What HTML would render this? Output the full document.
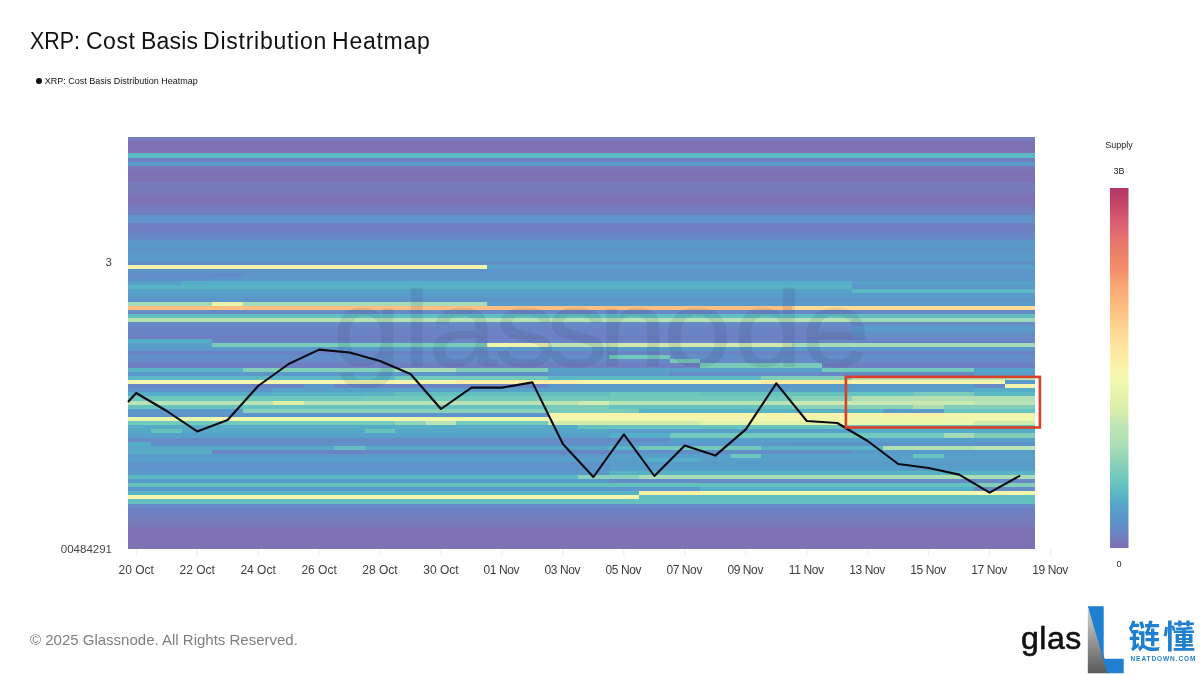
<!DOCTYPE html>
<html lang="en">
<head>
<meta charset="utf-8">
<title>XRP: Cost Basis Distribution Heatmap</title>
<style>
html,body{margin:0;padding:0;background:#fff;}
body{width:1200px;height:675px;position:relative;overflow:hidden;font-family:"Liberation Sans","Noto Sans CJK SC",sans-serif;color:#111;}
.title{position:absolute;left:29.6px;top:26px;font-size:23px;line-height:30px;white-space:nowrap;color:#111;letter-spacing:0;}
.tw{position:absolute;top:0;display:inline-block;transform-origin:0 0;}
.legend{position:absolute;left:35.7px;top:75px;font-size:9px;line-height:12px;white-space:nowrap;color:#111;}
.legend .dot{display:inline-block;width:6px;height:6px;border-radius:50%;background:#111;vertical-align:middle;margin-right:3px;position:relative;top:-1px;}
.foot{position:absolute;left:30px;top:630px;font-size:15px;line-height:20px;color:#7f7f7f;white-space:nowrap;}
svg{position:absolute;left:0;top:0;}
.xl{font-size:12px;fill:#3d3d3d;font-family:"Liberation Sans",sans-serif;}
.yl{font-size:11.5px;fill:#444;font-family:"Liberation Sans",sans-serif;}
.cb{font-size:9px;fill:#222;font-family:"Liberation Sans",sans-serif;}
.wm{font-size:107px;fill:#1a1a3a;stroke:#1a1a3a;stroke-width:1;stroke-linejoin:round;font-family:"Liberation Sans",sans-serif;}
.glas{position:absolute;left:1021px;top:618px;font-size:32px;line-height:40px;color:#111;letter-spacing:0.5px;-webkit-text-stroke:0.6px #111;}
.cn{position:absolute;left:1128.3px;top:613.6px;font-size:32px;line-height:46px;color:#1f7fd0;font-weight:bold;white-space:nowrap;letter-spacing:2.6px;font-family:"Liberation Sans","Noto Sans CJK SC",sans-serif;}
.nd{position:absolute;left:1130.5px;top:654px;font-size:6.5px;line-height:9px;color:#1f7fd0;font-weight:bold;white-space:nowrap;letter-spacing:0.93px;}
</style>
</head>
<body>
<div class="title"><span class="tw" style="left:0px;letter-spacing:0;transform:scaleX(0.93)">XRP:</span> <span class="tw" style="left:56.3px;letter-spacing:0.6px">Cost</span> <span class="tw" style="left:111.4px;letter-spacing:0.2px">Basis</span> <span class="tw" style="left:173.5px;letter-spacing:0.74px">Distribution</span> <span class="tw" style="left:302.5px;letter-spacing:0.73px">Heatmap</span></div>
<div class="legend"><span class="dot"></span>XRP: Cost Basis Distribution Heatmap</div>
<svg width="1200" height="675" viewBox="0 0 1200 675">
<defs>
<linearGradient id="cbg" x1="0" y1="0" x2="0" y2="1">
<stop offset="0.00%" stop-color="#b13468"/>
<stop offset="5.10%" stop-color="#c84868"/>
<stop offset="8.30%" stop-color="#d65a70"/>
<stop offset="11.10%" stop-color="#dd6572"/>
<stop offset="14.50%" stop-color="#e6746c"/>
<stop offset="17.70%" stop-color="#ec8068"/>
<stop offset="22.20%" stop-color="#f68a69"/>
<stop offset="26.25%" stop-color="#f8a470"/>
<stop offset="29.40%" stop-color="#f9b078"/>
<stop offset="33.30%" stop-color="#fdbe81"/>
<stop offset="35.60%" stop-color="#fcc888"/>
<stop offset="40.00%" stop-color="#fdd892"/>
<stop offset="44.40%" stop-color="#fee6a2"/>
<stop offset="46.25%" stop-color="#fdeaa2"/>
<stop offset="49.40%" stop-color="#fbf2a8"/>
<stop offset="52.50%" stop-color="#f5f6ad"/>
<stop offset="55.60%" stop-color="#ebf7ad"/>
<stop offset="60.00%" stop-color="#e0f0a8"/>
<stop offset="63.10%" stop-color="#d2ecaf"/>
<stop offset="66.70%" stop-color="#bce4b6"/>
<stop offset="69.40%" stop-color="#b4e1b4"/>
<stop offset="72.50%" stop-color="#a4dbb7"/>
<stop offset="75.60%" stop-color="#90d4b8"/>
<stop offset="77.80%" stop-color="#80ceb8"/>
<stop offset="81.10%" stop-color="#6cc7bc"/>
<stop offset="83.10%" stop-color="#62c0c0"/>
<stop offset="86.25%" stop-color="#55b0c6"/>
<stop offset="88.90%" stop-color="#57a0ca"/>
<stop offset="92.50%" stop-color="#5e94ca"/>
<stop offset="95.60%" stop-color="#6a85c6"/>
<stop offset="100.00%" stop-color="#7e72b5"/>
</linearGradient>
<linearGradient id="lg" x1="0" y1="0" x2="0" y2="1">
<stop offset="0%" stop-color="#d0d0d0"/><stop offset="100%" stop-color="#5a5a5a"/>
</linearGradient>
</defs>
<g shape-rendering="crispEdges">
<rect x="128" y="137" width="907" height="4" fill="#747cbe"/>
<rect x="128" y="141" width="907" height="4" fill="#7e72b5"/>
<rect x="128" y="145" width="907" height="4" fill="#7e72b5"/>
<rect x="128" y="149" width="907" height="4" fill="#7e72b5"/>
<rect x="128" y="153" width="907" height="5" fill="#5cb9c3"/>
<rect x="128" y="158" width="907" height="4" fill="#6f80c2"/>
<rect x="128" y="162" width="907" height="4" fill="#5b99ca"/>
<rect x="128" y="166" width="907" height="4" fill="#7977b9"/>
<rect x="128" y="170" width="907" height="4" fill="#7e72b5"/>
<rect x="128" y="174" width="907" height="4" fill="#7e72b5"/>
<rect x="128" y="178" width="907" height="4" fill="#7e72b5"/>
<rect x="128" y="182" width="907" height="4" fill="#7679bb"/>
<rect x="128" y="186" width="907" height="5" fill="#7679bb"/>
<rect x="128" y="191" width="907" height="4" fill="#7977b9"/>
<rect x="128" y="195" width="907" height="4" fill="#7e72b5"/>
<rect x="128" y="199" width="907" height="4" fill="#7e72b5"/>
<rect x="128" y="203" width="907" height="4" fill="#7977b9"/>
<rect x="128" y="207" width="907" height="4" fill="#747cbe"/>
<rect x="128" y="211" width="907" height="4" fill="#6f80c2"/>
<rect x="128" y="215" width="907" height="4" fill="#5d95ca"/>
<rect x="128" y="219" width="907" height="4" fill="#5f93ca"/>
<rect x="128" y="223" width="907" height="5" fill="#6f80c2"/>
<rect x="128" y="228" width="907" height="4" fill="#6f80c2"/>
<rect x="128" y="232" width="907" height="4" fill="#6a85c6"/>
<rect x="128" y="236" width="907" height="4" fill="#668bc7"/>
<rect x="128" y="240" width="907" height="4" fill="#5c97ca"/>
<rect x="128" y="244" width="907" height="4" fill="#5a9aca"/>
<rect x="128" y="248" width="907" height="4" fill="#5f93ca"/>
<rect x="128" y="252" width="907" height="4" fill="#5b99ca"/>
<rect x="128" y="256" width="907" height="5" fill="#599cca"/>
<rect x="128" y="261" width="907" height="4" fill="#6190c9"/>
<rect x="128" y="265" width="359" height="4" fill="#f4f6ad"/>
<rect x="487" y="265" width="548" height="4" fill="#57a0ca"/>
<rect x="128" y="269" width="907" height="4" fill="#5d95ca"/>
<rect x="128" y="273" width="115" height="4" fill="#638dc8"/>
<rect x="243" y="273" width="792" height="4" fill="#5d95ca"/>
<rect x="128" y="277" width="84" height="4" fill="#6190c9"/>
<rect x="212" y="277" width="823" height="4" fill="#5c97ca"/>
<rect x="128" y="281" width="54" height="4" fill="#57a0ca"/>
<rect x="182" y="281" width="670" height="4" fill="#55adc7"/>
<rect x="852" y="281" width="183" height="4" fill="#57a0ca"/>
<rect x="128" y="285" width="724" height="4" fill="#58b4c5"/>
<rect x="852" y="285" width="183" height="4" fill="#5b99ca"/>
<rect x="128" y="289" width="724" height="4" fill="#57a0ca"/>
<rect x="852" y="289" width="183" height="4" fill="#5cb9c3"/>
<rect x="128" y="293" width="907" height="5" fill="#599cca"/>
<rect x="128" y="298" width="907" height="4" fill="#5d95ca"/>
<rect x="128" y="302" width="84" height="4" fill="#a5dcb7"/>
<rect x="212" y="302" width="31" height="4" fill="#e6f4ab"/>
<rect x="243" y="302" width="244" height="4" fill="#a5dcb7"/>
<rect x="487" y="302" width="548" height="4" fill="#599cca"/>
<rect x="128" y="306" width="664" height="4" fill="#fdbe81"/>
<rect x="792" y="306" width="243" height="4" fill="#fddc96"/>
<rect x="128" y="310" width="907" height="4" fill="#668bc7"/>
<rect x="128" y="314" width="907" height="4" fill="#61bfc0"/>
<rect x="128" y="318" width="724" height="4" fill="#b6e2b4"/>
<rect x="852" y="318" width="183" height="4" fill="#9fd9b7"/>
<rect x="128" y="322" width="907" height="4" fill="#668bc7"/>
<rect x="128" y="326" width="724" height="5" fill="#6a85c6"/>
<rect x="852" y="326" width="183" height="5" fill="#599cca"/>
<rect x="128" y="331" width="724" height="4" fill="#6a85c6"/>
<rect x="852" y="331" width="183" height="4" fill="#6190c9"/>
<rect x="128" y="335" width="724" height="4" fill="#6f80c2"/>
<rect x="852" y="335" width="183" height="4" fill="#668bc7"/>
<rect x="128" y="339" width="84" height="4" fill="#55adc7"/>
<rect x="212" y="339" width="823" height="4" fill="#6a85c6"/>
<rect x="128" y="343" width="84" height="4" fill="#57a0ca"/>
<rect x="212" y="343" width="275" height="4" fill="#79ccb9"/>
<rect x="487" y="343" width="61" height="4" fill="#f0f6ad"/>
<rect x="548" y="343" width="61" height="4" fill="#bce4b6"/>
<rect x="609" y="343" width="183" height="4" fill="#d1ebaf"/>
<rect x="792" y="343" width="243" height="4" fill="#a5dcb7"/>
<rect x="128" y="347" width="907" height="4" fill="#5b99ca"/>
<rect x="128" y="351" width="907" height="4" fill="#6a85c6"/>
<rect x="128" y="355" width="481" height="4" fill="#6190c9"/>
<rect x="609" y="355" width="61" height="4" fill="#73c9bb"/>
<rect x="670" y="355" width="365" height="4" fill="#6190c9"/>
<rect x="128" y="359" width="542" height="4" fill="#668bc7"/>
<rect x="670" y="359" width="30" height="4" fill="#73c9bb"/>
<rect x="700" y="359" width="335" height="4" fill="#668bc7"/>
<rect x="128" y="363" width="572" height="5" fill="#6f80c2"/>
<rect x="700" y="363" width="122" height="5" fill="#79ccb9"/>
<rect x="822" y="363" width="213" height="5" fill="#6f80c2"/>
<rect x="128" y="368" width="115" height="4" fill="#58b4c5"/>
<rect x="243" y="368" width="152" height="4" fill="#80ceb8"/>
<rect x="395" y="368" width="61" height="4" fill="#abdeb6"/>
<rect x="456" y="368" width="92" height="4" fill="#80ceb8"/>
<rect x="548" y="368" width="274" height="4" fill="#57a0ca"/>
<rect x="822" y="368" width="152" height="4" fill="#73c9bb"/>
<rect x="974" y="368" width="61" height="4" fill="#57a0ca"/>
<rect x="128" y="372" width="328" height="4" fill="#5b99ca"/>
<rect x="456" y="372" width="92" height="4" fill="#6190c9"/>
<rect x="548" y="372" width="122" height="4" fill="#5b99ca"/>
<rect x="670" y="372" width="304" height="4" fill="#668bc7"/>
<rect x="974" y="372" width="61" height="4" fill="#599cca"/>
<rect x="128" y="376" width="267" height="4" fill="#5cb9c3"/>
<rect x="395" y="376" width="153" height="4" fill="#73c9bb"/>
<rect x="548" y="376" width="213" height="4" fill="#5cb9c3"/>
<rect x="761" y="376" width="91" height="4" fill="#80ceb8"/>
<rect x="852" y="376" width="183" height="4" fill="#bce4b6"/>
<rect x="128" y="380" width="328" height="4" fill="#f4f6ad"/>
<rect x="456" y="380" width="122" height="4" fill="#fceea5"/>
<rect x="578" y="380" width="183" height="4" fill="#f6f5ac"/>
<rect x="761" y="380" width="91" height="4" fill="#fdeca3"/>
<rect x="852" y="380" width="153" height="4" fill="#f3f6ad"/>
<rect x="1005" y="380" width="30" height="4" fill="#5b99ca"/>
<rect x="128" y="384" width="176" height="4" fill="#6a85c6"/>
<rect x="304" y="384" width="30" height="4" fill="#5b99ca"/>
<rect x="334" y="384" width="214" height="4" fill="#6a85c6"/>
<rect x="548" y="384" width="304" height="4" fill="#5b99ca"/>
<rect x="852" y="384" width="122" height="4" fill="#599cca"/>
<rect x="974" y="384" width="31" height="4" fill="#668bc7"/>
<rect x="1005" y="384" width="30" height="4" fill="#f4f6ad"/>
<rect x="128" y="388" width="145" height="4" fill="#5d95ca"/>
<rect x="273" y="388" width="701" height="4" fill="#57a0ca"/>
<rect x="974" y="388" width="61" height="4" fill="#55adc7"/>
<rect x="128" y="392" width="145" height="4" fill="#55adc7"/>
<rect x="273" y="392" width="122" height="4" fill="#58b4c5"/>
<rect x="395" y="392" width="214" height="4" fill="#61bfc0"/>
<rect x="609" y="392" width="91" height="4" fill="#6cc7bc"/>
<rect x="700" y="392" width="213" height="4" fill="#66c3be"/>
<rect x="913" y="392" width="61" height="4" fill="#79ccb9"/>
<rect x="974" y="392" width="61" height="4" fill="#5cb9c3"/>
<rect x="128" y="396" width="237" height="5" fill="#6cc7bc"/>
<rect x="365" y="396" width="427" height="5" fill="#73c9bb"/>
<rect x="792" y="396" width="60" height="5" fill="#88d1b8"/>
<rect x="852" y="396" width="183" height="5" fill="#b1e0b5"/>
<rect x="128" y="401" width="145" height="4" fill="#b9e3b5"/>
<rect x="273" y="401" width="31" height="4" fill="#e0f0a8"/>
<rect x="304" y="401" width="274" height="4" fill="#b9e3b5"/>
<rect x="578" y="401" width="31" height="4" fill="#d1ebaf"/>
<rect x="609" y="401" width="183" height="4" fill="#b6e2b4"/>
<rect x="792" y="401" width="182" height="4" fill="#cae9b2"/>
<rect x="974" y="401" width="61" height="4" fill="#b9e3b5"/>
<rect x="128" y="405" width="420" height="4" fill="#66c3be"/>
<rect x="548" y="405" width="61" height="4" fill="#79ccb9"/>
<rect x="609" y="405" width="183" height="4" fill="#66c3be"/>
<rect x="792" y="405" width="121" height="4" fill="#88d1b8"/>
<rect x="913" y="405" width="31" height="4" fill="#abdeb6"/>
<rect x="944" y="405" width="91" height="4" fill="#80ceb8"/>
<rect x="128" y="409" width="115" height="4" fill="#5b99ca"/>
<rect x="243" y="409" width="305" height="4" fill="#88d1b8"/>
<rect x="548" y="409" width="91" height="4" fill="#79ccb9"/>
<rect x="639" y="409" width="244" height="4" fill="#58b4c5"/>
<rect x="883" y="409" width="61" height="4" fill="#599cca"/>
<rect x="944" y="409" width="91" height="4" fill="#66c3be"/>
<rect x="128" y="413" width="420" height="4" fill="#5d95ca"/>
<rect x="548" y="413" width="335" height="4" fill="#f8f4ab"/>
<rect x="883" y="413" width="61" height="4" fill="#fbf0a7"/>
<rect x="944" y="413" width="91" height="4" fill="#f2f6ad"/>
<rect x="128" y="417" width="84" height="4" fill="#e8f5ac"/>
<rect x="212" y="417" width="31" height="4" fill="#f3f6ad"/>
<rect x="243" y="417" width="152" height="4" fill="#edf7ad"/>
<rect x="395" y="417" width="153" height="4" fill="#eff7ad"/>
<rect x="548" y="417" width="304" height="4" fill="#f1f6ad"/>
<rect x="852" y="417" width="183" height="4" fill="#eff7ad"/>
<rect x="128" y="421" width="267" height="4" fill="#73c9bb"/>
<rect x="395" y="421" width="31" height="4" fill="#90d4b8"/>
<rect x="426" y="421" width="30" height="4" fill="#bce4b6"/>
<rect x="456" y="421" width="92" height="4" fill="#73c9bb"/>
<rect x="548" y="421" width="152" height="4" fill="#d1ebaf"/>
<rect x="700" y="421" width="122" height="4" fill="#e3f2a9"/>
<rect x="822" y="421" width="152" height="4" fill="#ebf7ad"/>
<rect x="974" y="421" width="61" height="4" fill="#d1ebaf"/>
<rect x="128" y="425" width="450" height="4" fill="#55adc7"/>
<rect x="578" y="425" width="457" height="4" fill="#66c3be"/>
<rect x="128" y="429" width="23" height="4" fill="#56a7c8"/>
<rect x="151" y="429" width="31" height="4" fill="#66c3be"/>
<rect x="182" y="429" width="183" height="4" fill="#56a7c8"/>
<rect x="365" y="429" width="30" height="4" fill="#66c3be"/>
<rect x="395" y="429" width="214" height="4" fill="#56a7c8"/>
<rect x="609" y="429" width="243" height="4" fill="#57a0ca"/>
<rect x="852" y="429" width="183" height="4" fill="#55adc7"/>
<rect x="128" y="433" width="481" height="5" fill="#57a0ca"/>
<rect x="609" y="433" width="61" height="5" fill="#55adc7"/>
<rect x="670" y="433" width="274" height="5" fill="#73c9bb"/>
<rect x="944" y="433" width="30" height="5" fill="#a5dcb7"/>
<rect x="974" y="433" width="61" height="5" fill="#80ceb8"/>
<rect x="128" y="438" width="542" height="4" fill="#668bc7"/>
<rect x="670" y="438" width="365" height="4" fill="#57a0ca"/>
<rect x="128" y="442" width="23" height="4" fill="#55adc7"/>
<rect x="151" y="442" width="458" height="4" fill="#6190c9"/>
<rect x="609" y="442" width="183" height="4" fill="#5b99ca"/>
<rect x="792" y="442" width="243" height="4" fill="#5d95ca"/>
<rect x="128" y="446" width="206" height="4" fill="#56a7c8"/>
<rect x="334" y="446" width="31" height="4" fill="#61bfc0"/>
<rect x="365" y="446" width="244" height="4" fill="#56a7c8"/>
<rect x="609" y="446" width="30" height="4" fill="#58b4c5"/>
<rect x="639" y="446" width="122" height="4" fill="#73c9bb"/>
<rect x="761" y="446" width="122" height="4" fill="#58b4c5"/>
<rect x="883" y="446" width="91" height="4" fill="#b1e0b5"/>
<rect x="974" y="446" width="61" height="4" fill="#bce4b6"/>
<rect x="128" y="450" width="84" height="4" fill="#55adc7"/>
<rect x="212" y="450" width="397" height="4" fill="#6a85c6"/>
<rect x="609" y="450" width="243" height="4" fill="#6190c9"/>
<rect x="852" y="450" width="183" height="4" fill="#599cca"/>
<rect x="128" y="454" width="481" height="4" fill="#5b99ca"/>
<rect x="609" y="454" width="122" height="4" fill="#57a0ca"/>
<rect x="731" y="454" width="30" height="4" fill="#6cc7bc"/>
<rect x="761" y="454" width="152" height="4" fill="#57a0ca"/>
<rect x="913" y="454" width="31" height="4" fill="#66c3be"/>
<rect x="944" y="454" width="91" height="4" fill="#57a0ca"/>
<rect x="128" y="458" width="511" height="4" fill="#57a0ca"/>
<rect x="639" y="458" width="61" height="4" fill="#55adc7"/>
<rect x="700" y="458" width="335" height="4" fill="#57a0ca"/>
<rect x="128" y="462" width="481" height="4" fill="#5f93ca"/>
<rect x="609" y="462" width="426" height="4" fill="#599cca"/>
<rect x="128" y="466" width="481" height="5" fill="#5d95ca"/>
<rect x="609" y="466" width="426" height="5" fill="#589eca"/>
<rect x="128" y="471" width="481" height="4" fill="#5b99ca"/>
<rect x="609" y="471" width="426" height="4" fill="#58b4c5"/>
<rect x="128" y="475" width="450" height="4" fill="#5cb9c3"/>
<rect x="578" y="475" width="61" height="4" fill="#88d1b8"/>
<rect x="639" y="475" width="396" height="4" fill="#abdeb6"/>
<rect x="128" y="479" width="481" height="4" fill="#599cca"/>
<rect x="609" y="479" width="426" height="4" fill="#668bc7"/>
<rect x="128" y="483" width="846" height="4" fill="#64c1bf"/>
<rect x="974" y="483" width="61" height="4" fill="#80ceb8"/>
<rect x="128" y="487" width="572" height="4" fill="#5b99ca"/>
<rect x="700" y="487" width="274" height="4" fill="#56b1c6"/>
<rect x="974" y="487" width="61" height="4" fill="#668bc7"/>
<rect x="128" y="491" width="511" height="4" fill="#58b4c5"/>
<rect x="639" y="491" width="61" height="4" fill="#fbf0a7"/>
<rect x="700" y="491" width="335" height="4" fill="#f4f6ad"/>
<rect x="128" y="495" width="511" height="4" fill="#f4f6ad"/>
<rect x="639" y="495" width="396" height="4" fill="#61bfc0"/>
<rect x="128" y="499" width="907" height="5" fill="#64c1bf"/>
<rect x="128" y="504" width="907" height="4" fill="#668bc7"/>
<rect x="128" y="508" width="907" height="4" fill="#6f80c2"/>
<rect x="128" y="512" width="907" height="4" fill="#6f80c2"/>
<rect x="128" y="516" width="907" height="4" fill="#747cbe"/>
<rect x="128" y="520" width="907" height="4" fill="#747cbe"/>
<rect x="128" y="524" width="907" height="4" fill="#7977b9"/>
<rect x="128" y="528" width="907" height="4" fill="#7e72b5"/>
<rect x="128" y="532" width="907" height="4" fill="#7e72b5"/>
<rect x="128" y="536" width="907" height="5" fill="#7e72b5"/>
<rect x="128" y="541" width="907" height="4" fill="#7e72b5"/>
<rect x="128" y="545" width="907" height="4" fill="#7e72b5"/>
</g>
<g opacity="0.088" transform="scale(1.15,1)"><text x="289.3 350.4 372.5 430.2 475 520.2 576.8 638.3 696.9" y="366" class="wm">glassnode</text></g>
<g>
<line x1="136.2" y1="549" x2="136.2" y2="556" stroke="#ededed" stroke-width="1"/>
<line x1="197.2" y1="549" x2="197.2" y2="556" stroke="#ededed" stroke-width="1"/>
<line x1="258.1" y1="549" x2="258.1" y2="556" stroke="#ededed" stroke-width="1"/>
<line x1="319.1" y1="549" x2="319.1" y2="556" stroke="#ededed" stroke-width="1"/>
<line x1="380.0" y1="549" x2="380.0" y2="556" stroke="#ededed" stroke-width="1"/>
<line x1="441.0" y1="549" x2="441.0" y2="556" stroke="#ededed" stroke-width="1"/>
<line x1="502.0" y1="549" x2="502.0" y2="556" stroke="#ededed" stroke-width="1"/>
<line x1="562.9" y1="549" x2="562.9" y2="556" stroke="#ededed" stroke-width="1"/>
<line x1="623.9" y1="549" x2="623.9" y2="556" stroke="#ededed" stroke-width="1"/>
<line x1="684.8" y1="549" x2="684.8" y2="556" stroke="#ededed" stroke-width="1"/>
<line x1="745.8" y1="549" x2="745.8" y2="556" stroke="#ededed" stroke-width="1"/>
<line x1="806.8" y1="549" x2="806.8" y2="556" stroke="#ededed" stroke-width="1"/>
<line x1="867.7" y1="549" x2="867.7" y2="556" stroke="#ededed" stroke-width="1"/>
<line x1="928.7" y1="549" x2="928.7" y2="556" stroke="#ededed" stroke-width="1"/>
<line x1="989.6" y1="549" x2="989.6" y2="556" stroke="#ededed" stroke-width="1"/>
<line x1="1050.6" y1="549" x2="1050.6" y2="556" stroke="#ededed" stroke-width="1"/>
</g>
<polyline points="128.0,402.0 136.2,393.0 166.7,411.0 197.2,431.4 227.6,420.0 258.1,386.0 288.6,364.0 319.1,349.6 349.6,352.5 380.0,361.0 410.5,374.0 441.0,409.0 471.5,387.6 502.0,387.6 532.4,382.4 562.9,444.0 593.4,477.0 623.9,434.4 654.4,476.0 684.8,445.4 715.3,455.6 745.8,429.4 776.3,383.4 806.8,421.0 837.2,423.0 867.7,441.0 898.2,464.0 928.7,468.0 959.2,474.6 989.6,492.6 1020.1,475.6" fill="none" stroke="#0b0b14" stroke-width="2.1" stroke-linejoin="round" stroke-linecap="butt"/>
<rect x="845.9" y="376.9" width="194" height="50.6" fill="none" stroke="#da3f28" stroke-width="2.6"/>
<g>
<text x="136.2" y="574" text-anchor="middle" class="xl">20 Oct</text>
<text x="197.2" y="574" text-anchor="middle" class="xl">22 Oct</text>
<text x="258.1" y="574" text-anchor="middle" class="xl">24 Oct</text>
<text x="319.1" y="574" text-anchor="middle" class="xl">26 Oct</text>
<text x="380.0" y="574" text-anchor="middle" class="xl">28 Oct</text>
<text x="441.0" y="574" text-anchor="middle" class="xl">30 Oct</text>
<text x="501.4" y="574" text-anchor="middle" class="xl" letter-spacing="-0.4">01 Nov</text>
<text x="562.3" y="574" text-anchor="middle" class="xl" letter-spacing="-0.4">03 Nov</text>
<text x="623.3" y="574" text-anchor="middle" class="xl" letter-spacing="-0.4">05 Nov</text>
<text x="684.2" y="574" text-anchor="middle" class="xl" letter-spacing="-0.4">07 Nov</text>
<text x="745.2" y="574" text-anchor="middle" class="xl" letter-spacing="-0.4">09 Nov</text>
<text x="806.2" y="574" text-anchor="middle" class="xl" letter-spacing="-0.4">11 Nov</text>
<text x="867.1" y="574" text-anchor="middle" class="xl" letter-spacing="-0.4">13 Nov</text>
<text x="928.1" y="574" text-anchor="middle" class="xl" letter-spacing="-0.4">15 Nov</text>
<text x="989.0" y="574" text-anchor="middle" class="xl" letter-spacing="-0.4">17 Nov</text>
<text x="1050.0" y="574" text-anchor="middle" class="xl" letter-spacing="-0.4">19 Nov</text>
</g>
<text x="112" y="266" text-anchor="end" class="yl">3</text>
<text x="112" y="552.6" text-anchor="end" class="yl">00484291</text>
<text x="1119" y="148" text-anchor="middle" class="cb">Supply</text>
<text x="1119" y="174" text-anchor="middle" class="cb">3B</text>
<rect x="1110" y="188" width="18.5" height="360" fill="url(#cbg)"/>
<text x="1119" y="567" text-anchor="middle" class="cb">0</text>
<polygon points="1087.8,610 1087.8,673.3 1109,673.3 1090,610" fill="url(#lg)"/>
<polygon points="1087.8,606.3 1103.7,606.3 1103.7,658.8 1123.7,658.8 1123.7,673.3 1107.5,673.3" fill="#1f7fd0"/>
</svg>
<div class="foot">© 2025 Glassnode. All Rights Reserved.</div>
<div class="glas">glas</div>
<div class="cn">链懂</div>
<div class="nd">NEATDOWN.COM</div>
</body>
</html>
